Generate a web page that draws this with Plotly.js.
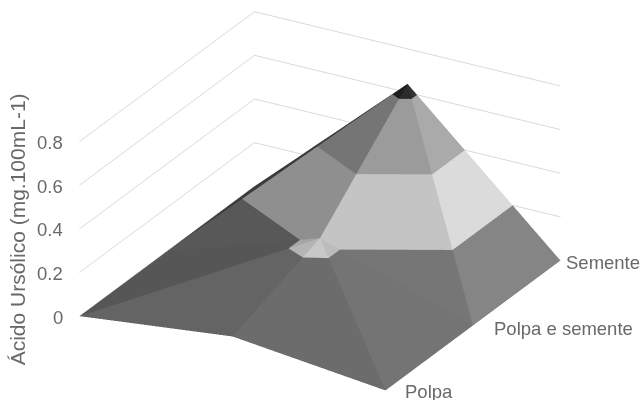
<!DOCTYPE html>
<html><head><meta charset="utf-8"><script src="https://cdn.plot.ly/plotly-3.0.1.min.js"></script>
<style>html,body{margin:0;background:#fff}</style></head><body><div id="c" style="width:644px;height:400px"></div>
<script>
var seriesNames=["Polpa","Polpa e semente","Semente"];
var columns=[0,1,2];
var rowsPos=[0,1,2];
var polpa=[0,0.077,0];
var polpaSemente=[0,0.23,0];
var semente=[0,0.64,0];
var zTicks=[0,0.2,0.4,0.6,0.8];
var zTickText=["0","0.2","0.4","0.6","0.8"];
var bands=[0,0.2,0.4,0.6,0.8];
var Z=[polpa,polpaSemente,semente];
// facet triangles [row,col] and their shade in each z band
var facets=[
 {v:[[0,0],[1,0],[1,1]],shade:['#565656','#a6a6a6','#999','#333']},
 {v:[[0,0],[0,1],[1,1]],shade:['#646464','#b4b4b4','#999','#333']},
 {v:[[0,1],[0,2],[1,1]],shade:['#6c6c6c','#c8c8c8','#999','#333']},
 {v:[[0,2],[1,2],[1,1]],shade:['#747474','#bcbcbc','#999','#333']},
 {v:[[1,0],[2,0],[2,1]],shade:['#3c3c3c','#3c3c3c','#3c3c3c','#222']},
 {v:[[1,0],[1,1],[2,1]],shade:['#585858','#8f8f8f','#757575','#1e1e1e']},
 {v:[[1,1],[1,2],[2,1]],shade:['#767676','#c4c4c4','#9b9b9b','#2b2b2b']},
 {v:[[1,2],[2,2],[2,1]],shade:['#858585','#dbdbdb','#aaaaaa','#333333']}
];
function clipZ(poly,lim,keepAbove){
  var out=[];
  for(var i=0;i<poly.length;i++){
    var a=poly[i],b=poly[(i+1)%poly.length];
    var ina=keepAbove?a[2]>=lim:a[2]<=lim, inb=keepAbove?b[2]>=lim:b[2]<=lim;
    if(ina)out.push(a);
    if(ina!==inb){var t=(lim-a[2])/(b[2]-a[2]);
      out.push([a[0]+t*(b[0]-a[0]),a[1]+t*(b[1]-a[1]),lim]);}
  }
  return out;
}
var X=[],Y=[],ZZ=[],I=[],J=[],K=[],FC=[];
facets.forEach(function(f){
  var tri=f.v.map(function(p){return [columns[p[1]],rowsPos[p[0]],Z[p[0]][p[1]]];});
  for(var b=0;b<bands.length-1;b++){
    var poly=clipZ(clipZ(tri,bands[b],true),bands[b+1],false);
    if(poly.length<3)continue;
    var base=X.length;
    poly.forEach(function(p){X.push(p[0]);Y.push(p[1]);ZZ.push(p[2]);});
    for(var i=1;i<poly.length-1;i++){I.push(base);J.push(base+i);K.push(base+i+1);FC.push(f.shade[b]);}
  }
});
var txt={family:'"Liberation Sans",Arial,sans-serif',size:18.5,color:'#696969'};
var ttl={family:'"Liberation Sans",Arial,sans-serif',size:21,color:'#696969'};
var ann=[];
zTicks.forEach(function(v,i){ann.push({x:0,y:0,z:v,text:zTickText[i],showarrow:false,xanchor:'right',yanchor:'middle',xshift:-14,yshift:-1,font:txt});});
var shifts=[17,19,3],yshifts=[-1,-3,-2];
seriesNames.forEach(function(s,i){ann.push({x:2,y:rowsPos[i],z:0,text:s,showarrow:false,xanchor:'left',yanchor:'middle',xshift:shifts[i],yshift:yshifts[i],font:txt});});
ann.push({x:0,y:0,z:0.4,text:'Ácido Ursólico (mg.100mL-1)',textangle:-90,showarrow:false,xanchor:'center',yanchor:'middle',xshift:-62,yshift:0,font:ttl});
var off={showgrid:false,showline:false,zeroline:false,showticklabels:false,ticks:'',showbackground:false,showspikes:false,title:{text:''}};
Plotly.newPlot('c',[{type:'mesh3d',x:X,y:Y,z:ZZ,i:I,j:J,k:K,facecolor:FC,flatshading:true,hoverinfo:'skip',
 lighting:{ambient:1,diffuse:0,specular:0,roughness:1,fresnel:0},showscale:false}],
{margin:{l:0,r:0,t:0,b:0},paper_bgcolor:'#fff',showlegend:false,
 scene:{domain:{x:[0,0.994],y:[0,1]},aspectmode:'manual',aspectratio:{x:1.763,y:1.763,z:0.964},
  camera:{projection:{type:'orthographic'},up:{x:0,y:0,z:1},center:{x:0,y:0,z:0.006},eye:{x:0.899,y:-1.572,z:0.855}},
  annotations:ann,
  xaxis:Object.assign({range:[0,2]},off),yaxis:Object.assign({range:[0,2]},off),
  zaxis:Object.assign({},off,{range:[0,0.8],showgrid:true,gridcolor:'#d9d9d9',gridwidth:2,tickvals:zTicks})}},
{displayModeBar:false,staticPlot:false});
</script></body></html>
